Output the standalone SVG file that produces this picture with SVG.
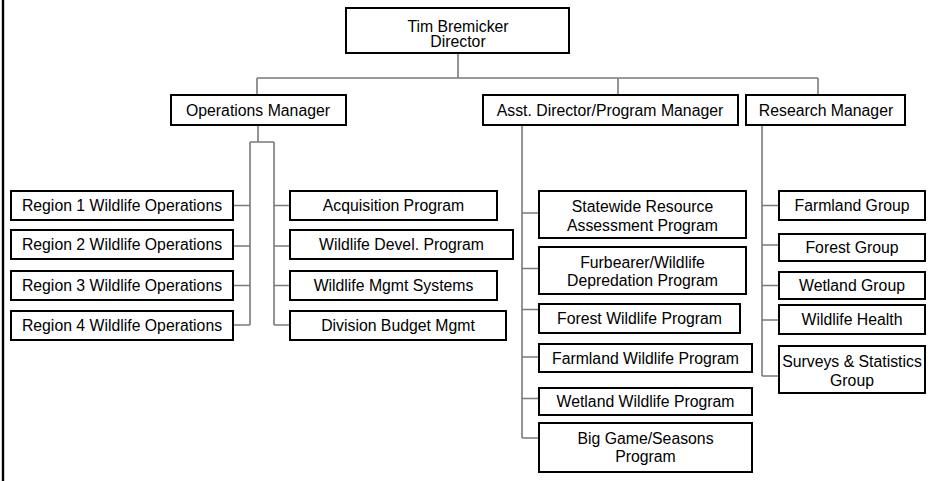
<svg xmlns="http://www.w3.org/2000/svg" width="950" height="481" viewBox="0 0 950 481">
<style>
.b{fill:#fff;stroke:#000;stroke-width:2}
.t{font-family:"Liberation Sans",Arial,sans-serif;font-size:15.8px;fill:#000;text-anchor:middle}
.c{fill:none;stroke:#7a7a7a;stroke-width:1.6}
</style>
<rect width="950" height="481" fill="#fff"/>
<line x1="3" y1="0" x2="3" y2="481" stroke="#000" stroke-width="2.4"/>
<g id="connectors" class="c">
<path d="M458 54V78M257 78H818M257 78V94M618 78V94M818 78V94"/>
<path d="M258 126V142M250 142H274M250 142V325M274 142V325"/>
<path d="M234 205.5H250M234 246H250M234 285.5H250M234 325H250"/>
<path d="M274 205.5H289M274 246H289M274 285.5H289M274 325H289"/>
<path d="M522 126V438M522 213H538M522 268.5H538M522 309.5H538M522 357H538M522 398.5H538M522 438H538"/>
<path d="M762 126V376M762 205.5H778M762 245H778M762 285.5H778M762 320H778M762 376H778"/>
</g>
<g id="director"><rect class="b" x="346" y="8" width="223" height="45"/><text class="t" x="458" y="31.5" font-size="15.4">Tim Bremicker</text><text class="t" x="458" y="47" font-size="15.4">Director</text></g>
<g id="ops"><rect class="b" x="171" y="95" width="175" height="30"/><text class="t" x="258" y="116">Operations Manager</text></g>
<g id="asst"><rect class="b" x="483" y="95" width="255" height="30"/><text class="t" x="610" y="116">Asst. Director/Program Manager</text></g>
<g id="research"><rect class="b" x="746" y="95" width="159" height="30"/><text class="t" x="826" y="116">Research Manager</text></g>
<g id="region1"><rect class="b" x="11" y="191" width="222" height="29"/><text class="t" x="122" y="211.2">Region 1 Wildlife Operations</text></g>
<g id="region2"><rect class="b" x="11" y="230" width="222" height="29"/><text class="t" x="122" y="250.2">Region 2 Wildlife Operations</text></g>
<g id="region3"><rect class="b" x="11" y="271" width="222" height="29"/><text class="t" x="122" y="291.2">Region 3 Wildlife Operations</text></g>
<g id="region4"><rect class="b" x="11" y="311" width="222" height="29"/><text class="t" x="122" y="331.2">Region 4 Wildlife Operations</text></g>
<g id="acq"><rect class="b" x="290" y="191" width="207" height="29"/><text class="t" x="393.5" y="211.2">Acquisition Program</text></g>
<g id="devel"><rect class="b" x="290" y="230" width="223" height="29"/><text class="t" x="401.5" y="250.2">Wildlife Devel. Program</text></g>
<g id="mgmtsys"><rect class="b" x="290" y="271" width="207" height="29"/><text class="t" x="393.5" y="291.2">Wildlife Mgmt Systems</text></g>
<g id="budget"><rect class="b" x="290" y="311" width="216" height="29"/><text class="t" x="398" y="331.2">Division Budget Mgmt</text></g>
<g id="statewide"><rect class="b" x="539" y="191" width="207" height="47"/><text class="t" x="642.5" y="212.4">Statewide Resource</text><text class="t" x="642.5" y="230.7">Assessment Program</text></g>
<g id="furbearer"><rect class="b" x="539" y="247" width="207" height="47"/><text class="t" x="642.5" y="267.5">Furbearer/Wildlife</text><text class="t" x="642.5" y="285.8">Depredation Program</text></g>
<g id="forestwp"><rect class="b" x="539" y="304" width="201" height="29"/><text class="t" x="639.5" y="324">Forest Wildlife Program</text></g>
<g id="farmwp"><rect class="b" x="539" y="344" width="213" height="28"/><text class="t" x="645.5" y="363.5">Farmland Wildlife Program</text></g>
<g id="wetwp"><rect class="b" x="539" y="388" width="213" height="27"/><text class="t" x="645.5" y="407">Wetland Wildlife Program</text></g>
<g id="biggame"><rect class="b" x="539" y="423" width="213" height="49"/><text class="t" x="645.5" y="444">Big Game/Seasons</text><text class="t" x="645.5" y="462.3">Program</text></g>
<g id="farmgrp"><rect class="b" x="779" y="191" width="146" height="29"/><text class="t" x="852" y="211.2">Farmland Group</text></g>
<g id="forestgrp"><rect class="b" x="779" y="234" width="146" height="27"/><text class="t" x="852" y="253">Forest Group</text></g>
<g id="wetgrp"><rect class="b" x="779" y="272" width="146" height="27"/><text class="t" x="852" y="291">Wetland Group</text></g>
<g id="health"><rect class="b" x="779" y="305" width="146" height="29"/><text class="t" x="852" y="325.2">Wildlife Health</text></g>
<g id="surveys"><rect class="b" x="779" y="346" width="146" height="47"/><text class="t" x="852" y="367">Surveys &amp; Statistics</text><text class="t" x="852" y="385.5">Group</text></g>
</svg>
